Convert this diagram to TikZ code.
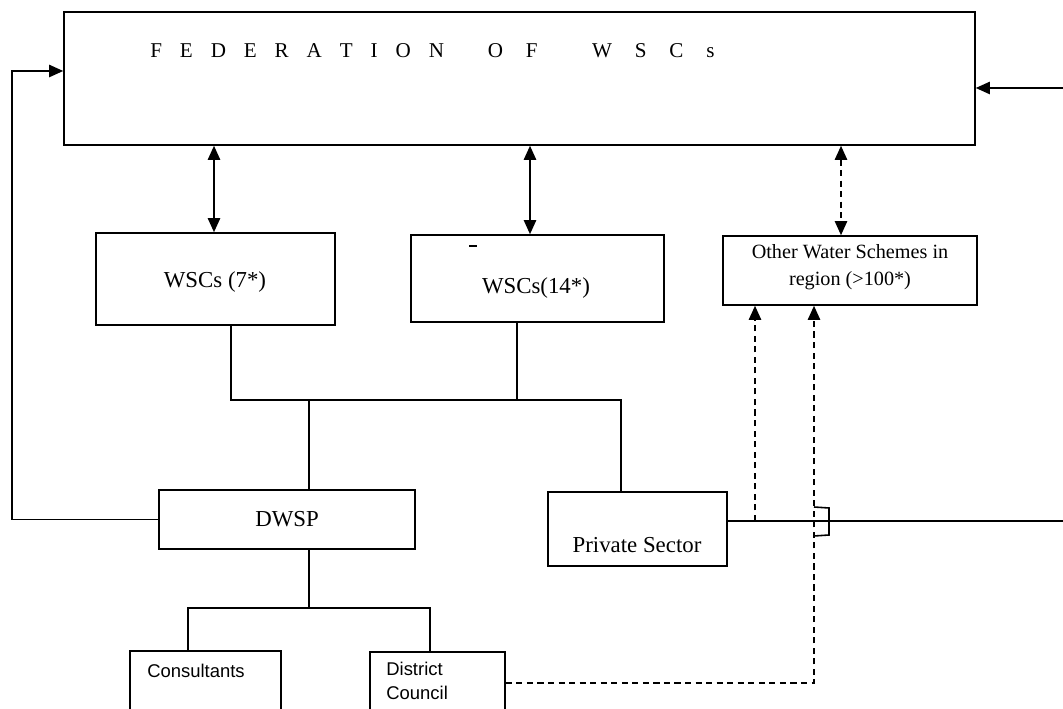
\documentclass[tikz,border=0pt]{standalone}
\usepackage{fontspec}
\setmainfont{Liberation Serif}
\newfontfamily\sansf{Liberation Sans}
\usetikzlibrary{arrows.meta,fit}
\newcommand\lsp{\hspace{10.2pt}}
\newcommand\lspb{\hspace{13pt}}
\begin{document}
\begin{tikzpicture}[x=0.02cm,y=-0.02cm,
  box/.style={draw,line width=0.9pt,rectangle,inner sep=0pt},
  conn/.style={line width=0.9pt},
  dconn/.style={line width=0.9pt,dash pattern=on 3.5pt off 2.5pt},
  lbl/.style={inner sep=0pt},
  big/.style={font=\fontsize{13}{15}\selectfont}]
\clip (0,0) rectangle (1063,709);
\fill[white] (0,0) rectangle (1063,709);
% boxes
\node[box,fit={(64,12) (975,145)}] (fed) {};
\node[lbl,anchor=base west,font=\fontsize{12}{14}\selectfont] (fedlabel) at (150,58)
  {F\lsp E\lsp D\lsp E\lsp R\lsp A\lsp T\lsp I\lsp O\lsp N\hspace{25pt}O\lspb F\hspace{31pt}W\lspb S\lspb C\lspb s};
\node[box,fit={(96,233) (335,325)}] (wsc7) {};
\node[lbl,big] (wsc7label) at (215,282) {WSCs (7*)};
\node[box,fit={(411,235) (664,322)}] (wsc14) {};
\node[lbl,big] (wsc14label) at (536,288) {WSCs(14*)};
\draw[line width=0.8pt] (469,246) -- (477,246);
\node[box,fit={(723,236) (977,305)}] (other) {};
\node[lbl,align=center,font=\fontsize{11.5}{15}\selectfont] (otherlabel) at (850,267) {Other Water Schemes in\\region (>100*)};
\node[box,fit={(159,490) (415,549)}] (dwsp) {};
\node[lbl,big] (dwsplabel) at (287,519) {DWSP};
\node[box,fit={(548,492) (727,566)}] (ps) {};
\node[lbl,big] (pslabel) at (637,545) {Private Sector};
\node[box,fit={(130,651) (281,760)}] (cons) {};
\node[lbl,font=\sansf\fontsize{10.5}{12}\selectfont] (conslabel) at (196,671) {Consultants};
\node[box,fit={(370,652) (505,760)}] (dist) {};
\node[lbl,anchor=north west,align=left,font=\sansf\fontsize{10.5}{13.5}\selectfont] (distlabel) at (386,662) {District\\Council};
% feedback arrows to federation
\coordinate (lc) at (12,71);
\coordinate (rin) at (1063,88);
\draw[conn,-{Triangle[length=8pt,width=7pt]}] (dwsp.west) -| (lc) -- (lc -| fed.west);
\draw[conn,-{Triangle[length=8pt,width=7pt]}] (rin) -- (rin -| fed.east);
% federation <-> members
\draw[conn,{Triangle[length=8pt,width=7pt]}-{Triangle[length=8pt,width=7pt]}] (214,0 |- fed.south) -- (214,0 |- wsc7.north);
\draw[conn,{Triangle[length=8pt,width=7pt]}-{Triangle[length=8pt,width=7pt]}] (530,0 |- fed.south) -- (530,0 |- wsc14.north);
\draw[dconn,{Triangle[length=8pt,width=7pt]}-{Triangle[length=8pt,width=7pt]}] (841,0 |- fed.south) -- (841,0 |- other.north);
% tree
\draw[conn] (231,0 |- wsc7.south) -- (231,400) -- (621,400) -- (621,0 |- ps.north);
\draw[conn] (517,0 |- wsc14.south) -- (517,400);
\draw[conn] (309,400) -- (309,0 |- dwsp.north);
\draw[conn] (309,0 |- dwsp.south) -- (309,608);
\draw[conn] (188,0 |- cons.north) -- (188,608) -- (430,608) -- (430,0 |- dist.north);
% private sector line with hop
\draw[conn] (ps.east |- 0,521) -- (1063,521);
\draw[conn] (814,507) -- (829,508) -- (829,535) -- (814,536);
% dashed links to other schemes
\draw[dconn,-{Triangle[length=8pt,width=7pt]}] (755,521) -- (755,0 |- other.south);
\draw[dconn,-{Triangle[length=8pt,width=7pt]}] (dist.east |- 0,683) -| (814,0 |- other.south);
\end{tikzpicture}
\end{document}
